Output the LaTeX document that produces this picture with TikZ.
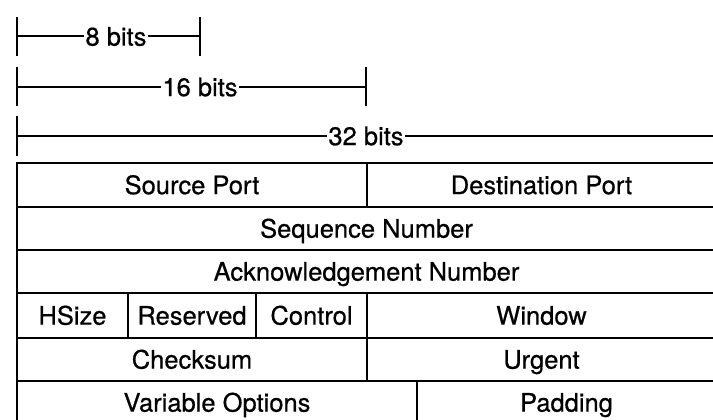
\documentclass[tikz,border=0pt]{standalone}
\usepackage{fontspec}
\setmainfont{TeX Gyre Heros}
\newfontfamily\fieldfont{TeX Gyre Heros}[FakeBold=0.6]
\begin{document}
\begin{tikzpicture}[x=1pt,y=-1pt,
  txt/.style={font=\fieldfont\fontsize{25.5}{30}\selectfont,text height=18.3pt,text depth=0pt},
  field/.style n args={2}{txt,draw,line width=2pt,minimum width=#1,minimum height=#2,inner sep=0pt},
  lbl/.style={txt,inner sep=1pt},
  bar/.style={line width=2pt},
  tickmark/.style={line width=2.4pt}
]
\useasboundingbox (0,0) rectangle (713,420);
\clip (0,0) rectangle (713,420);

% dimension bars
\coordinate (a8l) at (17,36.5);
\coordinate (a8r) at (200,36.5);
\node[lbl] (l8) at (116,36.5) {8 bits};
\draw[bar] (a8l) -- (l8.west);
\draw[bar] (l8.east) -- (a8r);
\draw[tickmark] ([yshift=-19.5pt]a8l) -- ([yshift=19.5pt]a8l);
\draw[tickmark] ([yshift=-19.5pt]a8r) -- ([yshift=19.5pt]a8r);

\coordinate (a16l) at (17,87);
\coordinate (a16r) at (366,87);
\node[lbl] (l16) at (200,87) {16 bits};
\draw[bar] (a16l) -- (l16.west);
\draw[bar] (l16.east) -- (a16r);
\draw[tickmark] ([yshift=-19.5pt]a16l) -- ([yshift=19.5pt]a16l);
\draw[tickmark] ([yshift=-19.5pt]a16r) -- ([yshift=19.5pt]a16r);

\coordinate (a32l) at (17,136);
\coordinate (a32r) at (716,136);
\node[lbl] (l32) at (366,136) {32 bits};
\draw[bar] (a32l) -- (l32.west);
\draw[bar] (l32.east) -- (a32r);
\draw[tickmark] ([yshift=-19.5pt]a32l) -- ([yshift=19.5pt]a32l);

% header fields
\node[field={350pt}{44pt}] (sport) at (192,185) {Source Port};
\node[field={349pt}{44pt}] (dport) at (541.5,185) {Destination Port};
\node[field={699pt}{43pt}] (seq) at (366.5,228.5) {Sequence Number};
\node[field={699pt}{43pt}] (ack) at (366.5,271.5) {Acknowledgement Number};
\node[field={111pt}{45pt}] (hsize) at (72.5,315.5) {HSize};
\node[field={128pt}{45pt}] (res) at (192,315.5) {Reserved};
\node[field={111pt}{45pt}] (ctrl) at (311.5,315.5) {Control};
\node[field={349pt}{45pt}] (win) at (541.5,315.5) {Window};
\node[field={350pt}{43pt}] (csum) at (192,359.5) {Checksum};
\node[field={349pt}{43pt}] (urg) at (541.5,359.5) {Urgent};
\node[field={400pt}{43pt}] (vopt) at (217,402.5) {Variable Options};
\node[field={299pt}{43pt}] (pad) at (566.5,402.5) {Padding};
\end{tikzpicture}
\end{document}
